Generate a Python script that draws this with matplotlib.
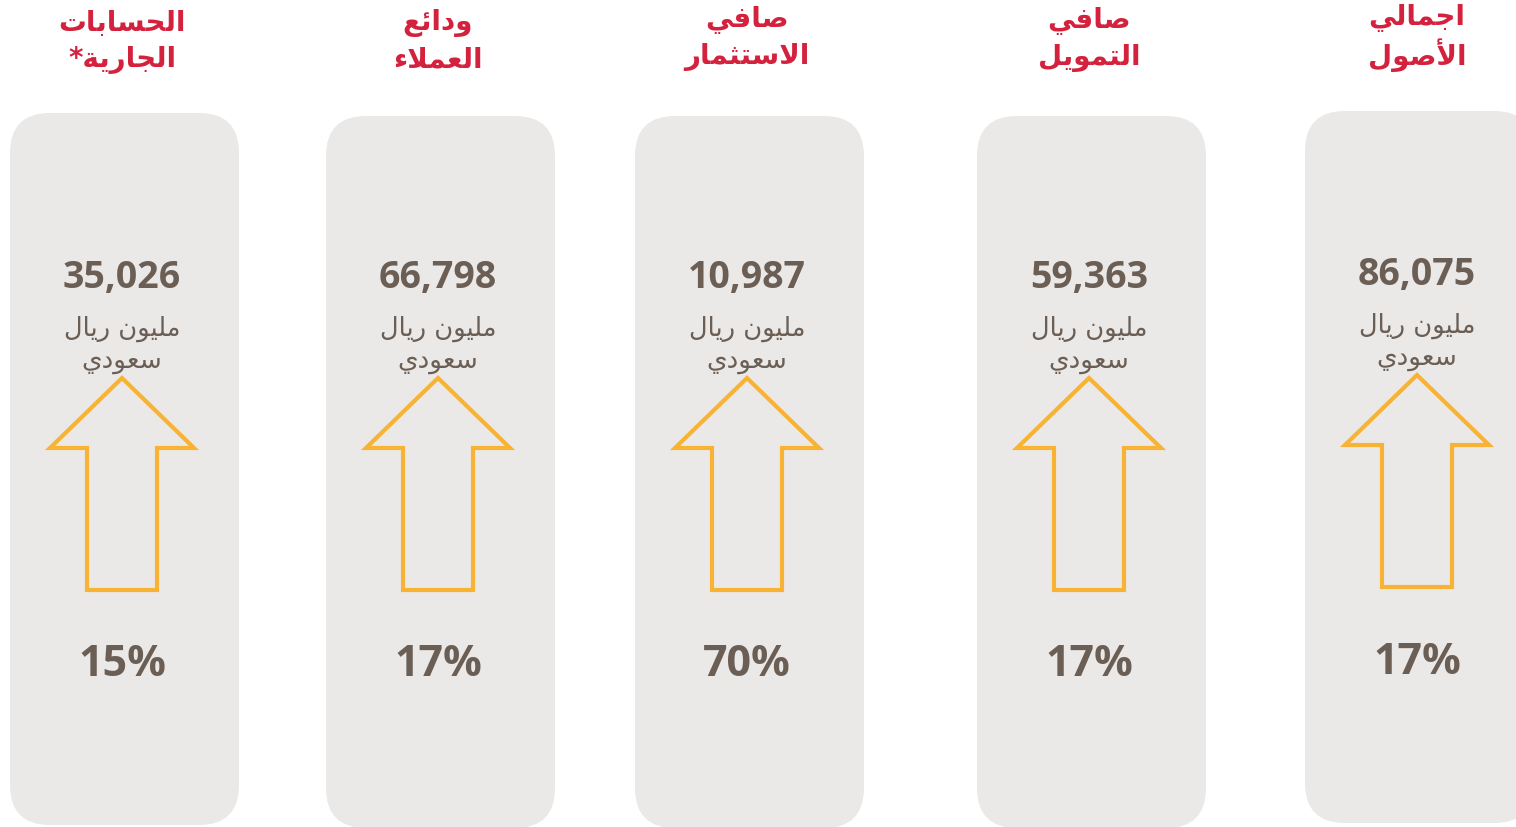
import numpy as np
import matplotlib.pyplot as plt
from matplotlib.patches import FancyBboxPatch, Polygon

### 0. Data
titles = [('الحسابات', 'الجارية*'),
          ('ودائع', 'العملاء'),
          ('صافي', 'الاستثمار'),
          ('صافي', 'التمويل'),
          ('اجمالي', 'الأصول')]
values = [35026, 66798, 10987, 59363, 86075]
growth = [15, 17, 70, 17, 17]
unit = ('مليون ريال', 'سعودي')

### 1. Layout
panel_x = [10, 326, 635, 977, 1305]
panel_top = [113, 116, 116, 116, 111]
title_dy = [3, 3, 0, 1, -2]
dy = [0, 0, 0, 0, -3]
panel_w, panel_h = 229, 712

red = '#D4213D'
brown = '#6B5E55'
orange = '#F8B334'
grey = '#EBE9E7'

### -1. Arabic shaping (matplotlib has no bidi / shaping)
# isolated, final, initial, medial
forms = {
    'ء': (0xFE80, None, None, None),
    'أ': (0xFE83, 0xFE84, None, None),
    'ا': (0xFE8D, 0xFE8E, None, None),
    'ئ': (0xFE89, 0xFE8A, 0xFE8B, 0xFE8C),
    'ب': (0xFE8F, 0xFE90, 0xFE91, 0xFE92),
    'ة': (0xFE93, 0xFE94, None, None),
    'ت': (0xFE95, 0xFE96, 0xFE97, 0xFE98),
    'ث': (0xFE99, 0xFE9A, 0xFE9B, 0xFE9C),
    'ج': (0xFE9D, 0xFE9E, 0xFE9F, 0xFEA0),
    'ح': (0xFEA1, 0xFEA2, 0xFEA3, 0xFEA4),
    'د': (0xFEA9, 0xFEAA, None, None),
    'ر': (0xFEAD, 0xFEAE, None, None),
    'س': (0xFEB1, 0xFEB2, 0xFEB3, 0xFEB4),
    'ص': (0xFEB9, 0xFEBA, 0xFEBB, 0xFEBC),
    'ع': (0xFEC9, 0xFECA, 0xFECB, 0xFECC),
    'ف': (0xFED1, 0xFED2, 0xFED3, 0xFED4),
    'ل': (0xFEDD, 0xFEDE, 0xFEDF, 0xFEE0),
    'م': (0xFEE1, 0xFEE2, 0xFEE3, 0xFEE4),
    'ن': (0xFEE5, 0xFEE6, 0xFEE7, 0xFEE8),
    'و': (0xFEED, 0xFEEE, None, None),
    'ي': (0xFEF1, 0xFEF2, 0xFEF3, 0xFEF4),
    'لا': (0xFEFB, 0xFEFC, None, None),
    'لأ': (0xFEF7, 0xFEF8, None, None),
}

def shape(s):
    # merge lam-alef first
    units = []
    i = 0
    while i < len(s):
        if s[i] == 'ل' and i + 1 < len(s) and s[i + 1] in 'اأ':
            units.append(s[i:i + 2])
            i += 2
        else:
            units.append(s[i])
            i += 1
    out = []
    for k, u in enumerate(units):
        if u not in forms:
            out.append(u)
            continue
        f = forms[u]
        prev = units[k - 1] if k > 0 else None
        nxt = units[k + 1] if k + 1 < len(units) else None
        jp = prev in forms and forms[prev][2] is not None
        jn = f[2] is not None and nxt in forms and forms[nxt][1] is not None
        if jp and jn:
            c = f[3]
        elif jp:
            c = f[1]
        elif jn:
            c = f[2]
        else:
            c = f[0]
        out.append(chr(c))
    return ''.join(out)[::-1]

### 2. Plot
fig = plt.figure(figsize=(15.16, 8.27), dpi=100)
ax = fig.add_axes([0, 0, 1, 1])
ax.set_xlim(0, 1516)
ax.set_ylim(827, 0)
ax.axis('off')

for i in range(len(values)):
    x0 = panel_x[i]
    cx = x0 + panel_w / 2 - 2.5
    d = dy[i]
    td = title_dy[i]
    ax.add_patch(FancyBboxPatch((x0, panel_top[i]), panel_w, panel_h,
                                boxstyle='round,pad=0,rounding_size=40',
                                fc=grey, ec='none'))
    # title
    ax.text(cx, 20 + td, shape(titles[i][0]), ha='center', va='center',
            fontsize=20, fontweight='bold', color=red, family='DejaVu Sans')
    ax.text(cx, 57 + td, shape(titles[i][1]), ha='center', va='center',
            fontsize=20, fontweight='bold', color=red, family='DejaVu Sans')
    # value
    ax.text(cx, 278 + d, '{:,}'.format(values[i]), ha='center', va='center',
            fontsize=27, fontweight='bold', color=brown, family='Open Sans')
    ax.text(cx, 329 + d, shape(unit[0]), ha='center', va='center',
            fontsize=18.5, color=brown, family='DejaVu Sans')
    ax.text(cx, 361 + d, shape(unit[1]), ha='center', va='center',
            fontsize=19, color=brown, family='DejaVu Sans')
    # arrow
    pts = [(cx, 378), (cx + 72, 448), (cx + 35, 448), (cx + 35, 590),
           (cx - 35, 590), (cx - 35, 448), (cx - 72, 448)]
    pts = [(px, py + d) for px, py in pts]
    ax.add_patch(Polygon(pts, closed=True, fc='none', ec=orange, lw=3,
                         joinstyle='miter'))
    # growth
    ax.text(cx, 665 + d, '{}%'.format(growth[i]), ha='center', va='center',
            fontsize=31, fontweight='bold', color=brown, family='Open Sans')

fig.savefig('out.png', dpi=100)
